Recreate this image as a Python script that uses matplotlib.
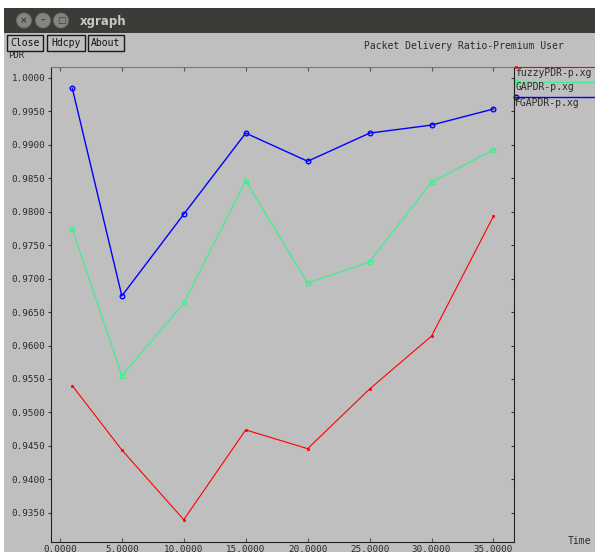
import matplotlib
matplotlib.use("Agg")
import matplotlib.pyplot as plt
from matplotlib.patches import Rectangle, Circle
from matplotlib.lines import Line2D

# ---- data -------------------------------------------------------------
times = [1, 5, 10, 15, 20, 25, 30, 35]
fuzzy_pdr = [0.9540, 0.9444, 0.9340, 0.9474, 0.9446, 0.9535, 0.9614, 0.9793]
ga_pdr = [0.9774, 0.9555, 0.9663, 0.9846, 0.9693, 0.9725, 0.9844, 0.9892]
fga_pdr = [0.9984, 0.9674, 0.9796, 0.9917, 0.9875, 0.9917, 0.9929, 0.9953]
series_names = ["fuzzyPDR-p.xg", "GAPDR-p.xg", "FGAPDR-p.xg"]
x_ticks = [0, 5, 10, 15, 20, 25, 30, 35]
y_ticks = [0.9350, 0.9400, 0.9450, 0.9500, 0.9550, 0.9600, 0.9650, 0.9700,
           0.9750, 0.9800, 0.9850, 0.9900, 0.9950, 1.0000]
title = "Packet Delivery Ratio-Premium User"

# ---- style ------------------------------------------------------------
W, H = 595, 552
BG = "#bfbfbf"
TXT = "#2a2a2a"
MONO = "DejaVu Sans Mono"
colors = ["#ff0000", "#3fef8f", "#0000ff"]
markers = [dict(marker="s", ms=2.0, mfc="#ff0000", mec="#ff0000", mew=0.5),
           dict(marker="s", ms=3.2, mfc="none", mec="#3fef8f", mew=0.9),
           dict(marker="o", ms=3.3, mfc="none", mec="#0000ff", mew=1.0)]
lws = [0.8, 0.9, 1.0]

fig = plt.figure(figsize=(W / 100, H / 100), dpi=100)
fig.patch.set_facecolor("white")

# window chrome drawn in pixel coordinates
chrome = fig.add_axes([0, 0, 1, 1], zorder=0)
chrome.set_xlim(0, W)
chrome.set_ylim(H, 0)
chrome.axis("off")
chrome.add_patch(Rectangle((4, 8), W - 4, H - 8, facecolor=BG, edgecolor="none"))
chrome.add_patch(Rectangle((4, 8), W - 4, 25, facecolor="#3c3b37", edgecolor="none"))
for cx, sym in [(24, "×"), (43, "–"), (61, "□")]:
    chrome.add_patch(Circle((cx, 20.5), 7.5, facecolor="#85847f", edgecolor="#6a6964", lw=0.6))
    chrome.text(cx, 20.8, sym, ha="center", va="center", fontsize=6.5,
                color="#3c3b37", fontweight="bold")
chrome.text(80, 21, "xgraph", ha="left", va="center", fontsize=8.5,
            fontweight="bold", color="#c9c9c6")

# y label partly hidden under the button row
chrome.text(8, 55, "PDR", ha="left", va="center", fontsize=6.5,
            family=MONO, color=TXT, zorder=1)
for x0, x1, lab in [(7, 43, "Close"), (47, 85, "Hdcpy"), (88, 124, "About")]:
    chrome.add_patch(Rectangle((x0, 35), x1 - x0, 16, facecolor=BG,
                               edgecolor="#1a1a1a", lw=1.0, zorder=2))
    chrome.text((x0 + x1) / 2, 43.5, lab, ha="center", va="center",
                fontsize=7, family=MONO, color="#111111", zorder=3)

chrome.text(364, 46, title, ha="left", va="center", fontsize=7,
            family=MONO, color=TXT)
chrome.text(568, 541, "Time", ha="left", va="center", fontsize=7,
            family=MONO, color=TXT)

# legend on the right margin
leg_y = [67, 81.5, 96.5]
for i, name in enumerate(series_names):
    chrome.add_line(Line2D([514, W], [leg_y[i], leg_y[i]], color=colors[i], lw=lws[i]))
    chrome.add_line(Line2D([516], [leg_y[i]], color=colors[i], lw=0, **markers[i]))
    chrome.text(515, leg_y[i] + 6, name, ha="left", va="center",
                fontsize=7, family=MONO, color=TXT)

# ---- plot area ----------------------------------------------------------
L, R, T, B = 51, 514, 67, 542
ax = fig.add_axes([L / W, (H - B) / H, (R - L) / W, (B - T) / H], zorder=1)
ax.set_facecolor("none")

for vals, c, m, lw in zip([fuzzy_pdr, ga_pdr, fga_pdr], colors, markers, lws):
    ax.plot(times, vals, color=c, lw=lw, **m)

ax.set_xlim(-0.72, 36.66)
ax.set_ylim(0.93067, 1.00157)

ax.set_xticks(x_ticks)
ax.set_xticklabels([f"{v:.4f}" for v in x_ticks])
ax.set_yticks(y_ticks)
ax.set_yticklabels([f"{v:.4f}" for v in y_ticks])
for lab in ax.get_xticklabels() + ax.get_yticklabels():
    lab.set_family(MONO)
    lab.set_fontsize(6.7)
    lab.set_color(TXT)

ax.tick_params(axis="y", direction="out", length=2.5, width=0.8, color="#333333",
               pad=1.5, right=True, labelright=False)
ax.tick_params(axis="x", direction="in", length=3, width=0.8, color="#555555",
               pad=2.5, top=True, labeltop=False)
ax.xaxis.get_major_ticks()[0].tick1line.set_color("white")
ax.xaxis.get_major_ticks()[0].tick2line.set_color("white")
for tk in ax.yaxis.get_major_ticks():
    tk.tick2line.set_marker(0)  # right side ticks point inward

for side in ["left", "right", "top", "bottom"]:
    ax.spines[side].set_linestyle((0, (1, 1)))
    ax.spines[side].set_linewidth(0.8)
    ax.spines[side].set_color("#222222")
ax.spines["top"].set_color("#777777")

fig.savefig("out.png", dpi=100, facecolor=fig.get_facecolor())
